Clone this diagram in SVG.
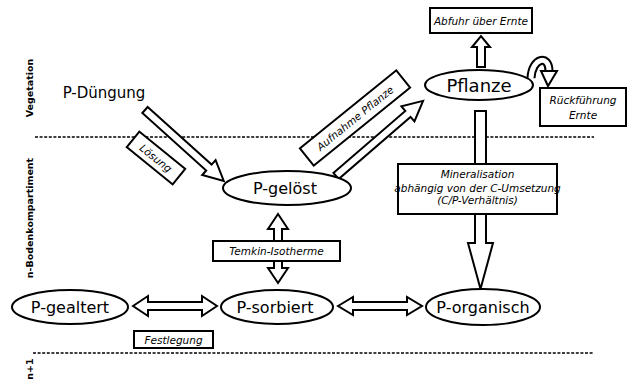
<svg xmlns="http://www.w3.org/2000/svg" width="636" height="386" viewBox="0 0 636 386">
  <style>
    .bg { fill: #ffffff; }
    .sep { stroke: #000; stroke-width: 1.3; stroke-dasharray: 3 1.6; fill: none; }
    .node { fill: #fff; stroke: #000; stroke-width: 2; }
    .box { fill: #fff; stroke: #000; stroke-width: 2; }
    .flow { fill: #fff; stroke: #000; stroke-width: 2; stroke-linejoin: miter; }
    .lbl { font-family: "DejaVu Sans", "Liberation Sans", sans-serif; fill: #000; text-anchor: middle; }
    .nodetxt { font-size: 16px; }
    .tag { font-style: italic; font-size: 10.5px; }
    .side { font-size: 9.5px; font-weight: bold; }
  </style>

  <rect class="bg" x="0" y="0" width="636" height="386"/>

  <!-- compartment separators and side captions -->
  <g id="compartments">
    <line class="sep" x1="35" y1="137" x2="594" y2="137"/>
    <line class="sep" x1="33" y1="353" x2="594" y2="353"/>
    <text class="lbl side" transform="translate(33,88) rotate(-90)">Vegetation</text>
    <text class="lbl side" transform="translate(33,218) rotate(-90)">n-Bodenkompartiment</text>
    <text class="lbl side" transform="translate(33,369) rotate(-90)">n+1</text>
  </g>

  <!-- connectors -->
  <g id="connectors">
    <!-- Lösung: P-Düngung -> P-gelöst -->
    <polygon class="flow" transform="translate(145,110) rotate(42)" points="0,-4 86,-4 86,-10 106,0 86,10 86,4 0,4"/>
    <!-- Aufnahme Pflanze: P-gelöst -> Pflanze -->
    <polygon class="flow" transform="translate(336,176) rotate(-40.8)" points="0,-4 95,-4 95,-10 115,0 95,10 95,4 0,4"/>
    <!-- Abfuhr über Ernte -->
    <polygon class="flow" points="477,67 477,47 472,47 481,36 490,47 485,47 485,67"/>
    <!-- Rückführung Ernte (curved) -->
    <path d="M531,78 C532,58 549,54 549,71" fill="none" stroke="#000" stroke-width="9"/>
    <path d="M531,78 C532,58 549,54 549,71" fill="none" stroke="#fff" stroke-width="5"/>
    <polygon class="flow" points="541,71 557,71 548,86"/>
    <!-- Mineralisation: Pflanze -> P-organisch -->
    <polygon class="flow" points="475,111 486,111 486,243 493,243 480.5,289 468,243 475,243"/>
    <!-- Temkin-Isotherme: P-gelöst <-> P-sorbiert -->
    <polygon class="flow" points="274,241 274,229 268,229 278,214 288,229 282,229 282,241"/>
    <polygon class="flow" points="274,261 274,268 268,268 278,283 288,268 282,268 282,261"/>
    <!-- Festlegung: P-gealtert <-> P-sorbiert -->
    <polygon class="flow" points="133,306 148,296 148,302 202,302 202,296 217,306 202,316 202,310 148,310 148,316"/>
    <!-- P-sorbiert <-> P-organisch -->
    <polygon class="flow" points="338,306 353,297 353,302 407,302 407,297 422,306 407,315 407,310 353,310 353,315"/>
  </g>

  <!-- connector labels -->
  <g id="label-loesung" transform="translate(156,158) rotate(39)">
    <rect class="box" x="-29.5" y="-10" width="59" height="20"/>
    <text class="lbl tag" x="0" y="4">Lösung</text>
  </g>
  <g id="label-aufnahme" transform="translate(355,118) rotate(-39)">
    <rect class="box" x="-62" y="-11" width="124" height="22"/>
    <text class="lbl tag" x="0" y="4">Aufnahme Pflanze</text>
  </g>
  <g id="label-abfuhr">
    <rect class="box" x="430" y="8" width="102" height="25"/>
    <text class="lbl tag" x="481" y="24.5" font-size="9.5">Abfuhr über Ernte</text>
  </g>
  <g id="label-rueckfuehrung">
    <rect class="box" x="540" y="88" width="86" height="38"/>
    <text class="lbl tag" x="583" y="104">Rückführung</text>
    <text class="lbl tag" x="583" y="119">Ernte</text>
  </g>
  <g id="label-mineralisation">
    <rect class="box" x="398" y="164" width="159" height="50"/>
    <text class="lbl tag" x="477.5" y="178">Mineralisation</text>
    <text class="lbl tag" x="477.5" y="192" font-size="8">abhängig von der C-Umsetzung</text>
    <text class="lbl tag" x="477.5" y="204" font-size="8">(C/P-Verhältnis)</text>
  </g>
  <g id="label-temkin">
    <rect class="box" x="213" y="241" width="127" height="20"/>
    <text class="lbl tag" x="276.5" y="255">Temkin-Isotherme</text>
  </g>
  <g id="label-festlegung">
    <rect class="box" x="134" y="331" width="79" height="17"/>
    <text class="lbl tag" x="173.5" y="343.5">Festlegung</text>
  </g>

  <!-- nodes -->
  <g id="node-duengung">
    <text class="lbl" x="104" y="98" font-size="15">P-Düngung</text>
  </g>
  <g id="node-pflanze">
    <ellipse class="node" cx="479" cy="85" rx="54" ry="15"/>
    <text class="lbl" x="479" y="91.5" font-size="18">Pflanze</text>
  </g>
  <g id="node-geloest">
    <ellipse class="node" cx="287" cy="188" rx="64" ry="17"/>
    <text class="lbl nodetxt" x="285" y="194">P-gelöst</text>
  </g>
  <g id="node-gealtert">
    <ellipse class="node" cx="70" cy="307" rx="58" ry="17"/>
    <text class="lbl nodetxt" x="70" y="313">P-gealtert</text>
  </g>
  <g id="node-sorbiert">
    <ellipse class="node" cx="277" cy="307" rx="56" ry="17"/>
    <text class="lbl nodetxt" x="275" y="313">P-sorbiert</text>
  </g>
  <g id="node-organisch">
    <ellipse class="node" cx="483" cy="307" rx="57" ry="18"/>
    <text class="lbl nodetxt" x="483" y="313">P-organisch</text>
  </g>
</svg>
